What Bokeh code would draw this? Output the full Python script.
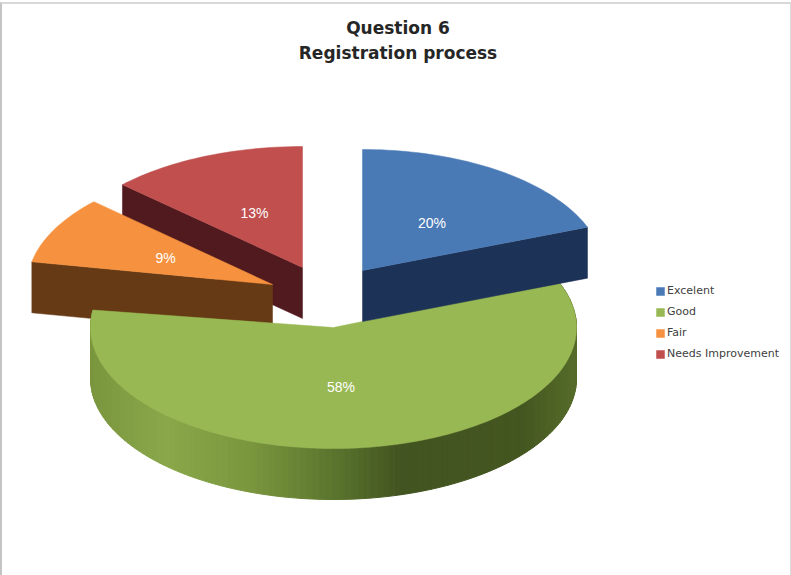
import math
from bokeh.plotting import figure
from bokeh.models import Legend, LegendItem, Title
from bokeh.core.properties import value
from bokeh.embed import file_html
from bokeh.resources import INLINE

title_lines = ["Question 6", "Registration process"]
categories = ["Excelent", "Good", "Fair", "Needs Improvement"]
percents = [20, 58, 9, 13]
top_colors = ["#4a7ab6", "#98b853", "#f6923f", "#c04f4e"]
wall_colors = ["#1d3257", None, "#663a14", "#501a1f"]

# geometry of the exploded, tilted pie (image pixels)
apex_x = [362, 333, 272, 302]
apex_y = [270, 327, 284, 267]
radius_x = [241, 243, 245, 247]
radius_y = 121
depth = 51
label_frac = 0.49
draw_order = [3, 2, 1, 0]
# foreshortening of the slice edges on the page, in degrees
start_warp = [0, -4.5, 0, 0]
end_warp = [-3, -2.5, 0, 0]

# green wall shading, by horizontal position
shade_x = [90, 165, 250, 330, 400, 520, 576]
shade_rgb = [(122, 150, 62), (138, 168, 74), (122, 150, 62), (92, 118, 46),
             (66, 84, 32), (68, 86, 32), (86, 108, 42)]


def shade(x):
    x = min(max(x, shade_x[0]), shade_x[-1])
    for i in range(len(shade_x) - 1):
        if x <= shade_x[i + 1]:
            t = (x - shade_x[i]) / (shade_x[i + 1] - shade_x[i])
            c = [round(a + (b - a) * t) for a, b in zip(shade_rgb[i], shade_rgb[i + 1])]
            return "#%02x%02x%02x" % tuple(c)
    return "#425420"


def point(i, deg):
    r = math.radians(deg)
    return apex_x[i] + radius_x[i] * math.sin(r), apex_y[i] - radius_y * math.cos(r)


p = figure(width=791, height=573, output_backend="svg", toolbar_location=None,
           x_range=(2, 793), y_range=(577, 64), x_axis_location=None, y_axis_location=None,
           min_border_left=0, min_border_right=0, min_border_bottom=0, min_border_top=60,
           outline_line_color=None, background_fill_color="white", border_fill_color="white",
           styles={"border-top": "2px solid #d8d8d8", "border-left": "2px solid #c4c4c4",
                   "border-right": "1px solid #dcdcdc", "margin-top": "2px"})
p.grid.visible = False
for line in reversed(title_lines):
    p.add_layout(Title(text=line, align="center", text_font="DejaVu Sans", text_font_style="bold",
                       text_font_size="17px", text_color="#262626", standoff=3), "above")

starts = []
acc = 0.0
for v in percents:
    starts.append(acc)
    acc += v * 3.6

tops = {}
for i in draw_order:
    a0 = starts[i] + start_warp[i]
    a1 = starts[i] + percents[i] * 3.6 + end_warp[i]
    steps = max(8, int((a1 - a0) / 1.5))
    angs = [a0 + (a1 - a0) * k / steps for k in range(steps + 1)]
    pts = [point(i, a) for a in angs]
    if wall_colors[i] is not None:
        tip = pts[-1] if i == 0 else pts[0]
        wx = [tip[0], apex_x[i], apex_x[i], tip[0]]
        wy = [tip[1], apex_y[i], apex_y[i] + depth, tip[1] + depth]
        p.patch(wx, wy, fill_color=wall_colors[i], line_color=wall_colors[i], line_width=0.5)
    else:
        xs, ys, cs = [], [], []
        for k in range(steps):
            (x0, y0), (x1, y1) = pts[k], pts[k + 1]
            xs.append([x0, x1, x1, x0])
            ys.append([y0, y1, y1 + depth, y0 + depth])
            cs.append(shade((x0 + x1) / 2))
        p.patches(xs, ys, fill_color=cs, line_color=cs, line_width=1)
    tops[i] = p.patch([apex_x[i]] + [q[0] for q in pts], [apex_y[i]] + [q[1] for q in pts],
                      fill_color=top_colors[i], line_color=top_colors[i], line_width=0.5)

for i in range(len(percents)):
    mid = starts[i] + percents[i] * 1.8
    r = math.radians(mid)
    lx = apex_x[i] + label_frac * radius_x[i] * math.sin(r)
    ly = apex_y[i] - label_frac * radius_y * math.cos(r)
    p.text([lx], [ly], text=[f"{percents[i]}%"], text_color="white", text_align="center",
           text_baseline="middle", text_font=value("Liberation Sans"), text_font_size="14px")

legend = Legend(items=[LegendItem(label=categories[i], renderers=[tops[i]]) for i in range(4)],
                location=(653, 216), orientation="vertical", padding=0, margin=0, spacing=6,
                glyph_width=10, glyph_height=10, label_standoff=2, label_height=15,
                background_fill_alpha=0, border_line_alpha=0,
                label_text_font="DejaVu Sans", label_text_font_size="11px", label_text_color="#404040")
p.add_layout(legend, "center")

open("out.html", "w").write(file_html(p, INLINE))
